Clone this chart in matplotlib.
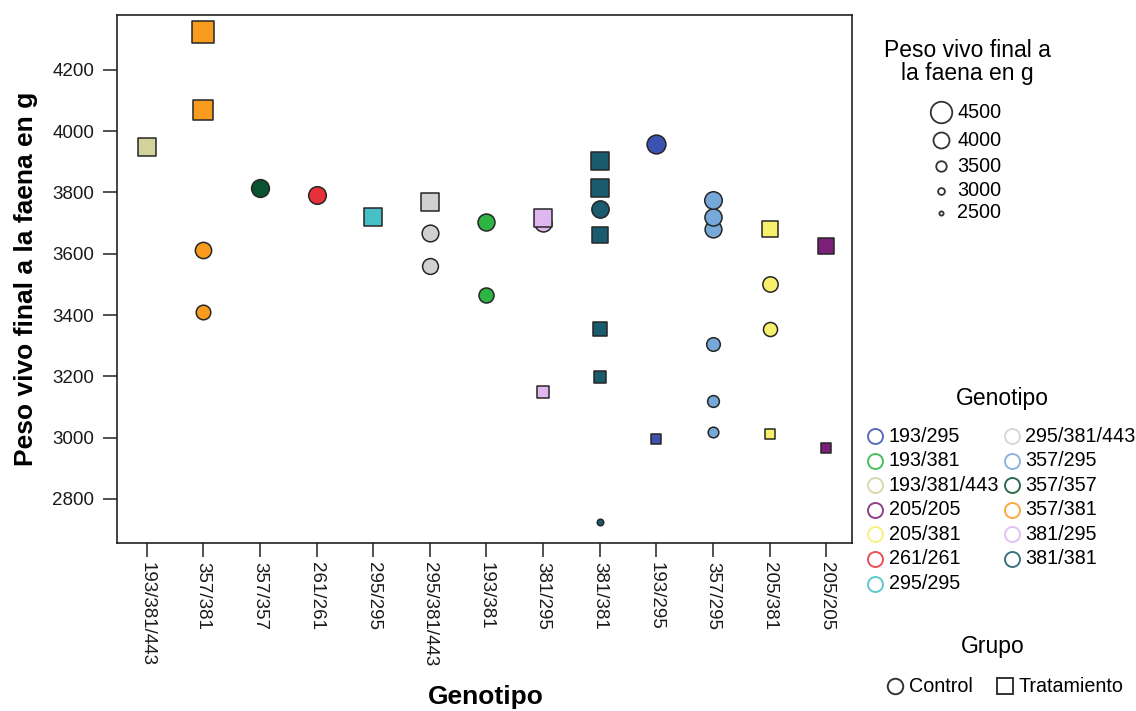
import matplotlib
matplotlib.use("Agg")
import matplotlib.pyplot as plt
from matplotlib.lines import Line2D
import numpy as np

plt.rcParams['font.family'] = ['Liberation Sans', 'DejaVu Sans']

# ---------------- data ----------------
categories = ['193/381/443', '357/381', '357/357', '261/261', '295/295',
              '295/381/443', '193/381', '381/295', '381/381', '193/295',
              '357/295', '205/381', '205/205']

legend_genotipos = ['193/295', '193/381', '193/381/443', '205/205', '205/381',
                    '261/261', '295/295', '295/381/443', '357/295', '357/357',
                    '357/381', '381/295', '381/381']

genotipo_colors = {
    '193/295': '#3B52B0',
    '193/381': '#2DB443',
    '193/381/443': '#D4D29C',
    '205/205': '#7B1F78',
    '205/381': '#F7F06C',
    '261/261': '#E8303A',
    '295/295': '#45C0C6',
    '295/381/443': '#D0D0D0',
    '357/295': '#77A8DA',
    '357/357': '#0A5230',
    '357/381': '#F99B1E',
    '381/295': '#E0B6F0',
    '381/381': '#1A5B6D',
}

pt_genotipo = ['193/381/443',
               '357/381', '357/381', '357/381', '357/381',
               '357/357',
               '261/261',
               '295/295',
               '295/381/443', '295/381/443', '295/381/443',
               '193/381', '193/381',
               '381/295', '381/295', '381/295',
               '381/381', '381/381', '381/381', '381/381', '381/381', '381/381', '381/381',
               '193/295', '193/295',
               '357/295', '357/295', '357/295', '357/295', '357/295', '357/295',
               '205/381', '205/381', '205/381', '205/381',
               '205/205', '205/205']
pt_grupo = ['Tratamiento',
            'Tratamiento', 'Tratamiento', 'Control', 'Control',
            'Control',
            'Control',
            'Tratamiento',
            'Tratamiento', 'Control', 'Control',
            'Control', 'Control',
            'Control', 'Tratamiento', 'Tratamiento',
            'Tratamiento', 'Tratamiento', 'Control', 'Tratamiento', 'Tratamiento', 'Tratamiento', 'Control',
            'Control', 'Tratamiento',
            'Control', 'Control', 'Control', 'Control', 'Control', 'Control',
            'Tratamiento', 'Control', 'Control', 'Tratamiento',
            'Tratamiento', 'Tratamiento']
pt_peso = [3949,
           4325, 4069, 3613, 3411,
           3814,
           3790,
           3721,
           3770, 3667, 3561,
           3705, 3464,
           3700, 3716, 3150,
           3904, 3814, 3745, 3662, 3354, 3199, 2724,
           3959, 2996,
           3017, 3120, 3305, 3681, 3721, 3776,
           3680, 3502, 3354, 3011,
           3626, 2966]

y_ticks = [2800, 3000, 3200, 3400, 3600, 3800, 4000, 4200]
size_legend_values = [4500, 4000, 3500, 3000, 2500]
grupo_labels = ['Control', 'Tratamiento']

# ---------------- styles ----------------
W, H = 1136, 711
DPI = 100
group_marker = {'Control': 'o', 'Tratamiento': 's'}
size_legend_px = {4500: 21.5, 4000: 16.0, 3500: 10.5, 3000: 6.8, 2500: 4.2}
TICK_FS = 13.5
LEG_FS = 14.2
TITLE_FS = 16.5
AXLABEL_FS = 19


def marker_px(v):
    return np.sqrt(np.clip(0.28 * np.asarray(v, float) - 700, 30, None)) - 1.4


def px2fig(x, y):
    return x / W, 1 - y / H


fig = plt.figure(figsize=(W / DPI, H / DPI), dpi=DPI)
ax_l, ax_r, ax_t, ax_b = 117.3, 852.3, 15, 543
ax = fig.add_axes([ax_l / W, 1 - ax_b / H, (ax_r - ax_l) / W, (ax_b - ax_t) / H])

xpos = {c: i for i, c in enumerate(categories)}
for g, grp, v in zip(pt_genotipo, pt_grupo, pt_peso):
    d = marker_px(v) * 72 / DPI
    ax.scatter([xpos[g]], [v], s=d ** 2, marker=group_marker[grp],
               c=genotipo_colors[g], edgecolors='#262626', linewidths=1.1, zorder=3)

ax.set_xlim(-0.519, 12.459)
ax.set_ylim(2656, 4379)
ax.set_xticks(range(len(categories)))
ax.set_xticklabels(categories, rotation=-90, fontsize=TICK_FS, va='top', ha='center')
ax.set_yticks(y_ticks)
ax.set_yticklabels([str(t) for t in y_ticks], fontsize=TICK_FS)
ax.tick_params(axis='both', direction='out', length=10, width=1.1, color='#222222',
               labelcolor='#1a1a1a')
ax.tick_params(axis='x', pad=3.5)
ax.tick_params(axis='y', pad=6.5)
for sp in ax.spines.values():
    sp.set_linewidth(1.2)
    sp.set_color('#222222')

ax.set_xlabel('Genotipo', fontsize=AXLABEL_FS, fontweight='bold', va='center')
ax.xaxis.set_label_coords((486 - ax_l) / (ax_r - ax_l), (ax_b - 697) / (ax_b - ax_t))
ax.set_ylabel('Peso vivo final a la faena en g', fontsize=AXLABEL_FS, fontweight='bold', va='center')
ax.yaxis.set_label_coords((26 - ax_l) / (ax_r - ax_l), 0.5)

# ---------------- size legend ----------------
fig.text(*px2fig(967, 62), 'Peso vivo final a\nla faena en g', ha='center', va='center',
         fontsize=TITLE_FS, linespacing=1.0)
size_rows = [112, 140, 166, 190.5, 213]
for v, yy in zip(size_legend_values, size_rows):
    fx, fy = px2fig(941, yy)
    fig.add_artist(Line2D([fx], [fy], transform=fig.transFigure, marker='o', linestyle='none',
                          markersize=size_legend_px[v] * 72 / DPI, markerfacecolor='none',
                          markeredgecolor='#333333', markeredgewidth=1.3))
    fig.text(*px2fig(957.5, yy), str(v), ha='left', va='center', fontsize=LEG_FS)

# ---------------- genotipo legend ----------------
fig.text(*px2fig(1002, 399), 'Genotipo', ha='center', va='center', fontsize=TITLE_FS)
row_y0, row_dy = 436, 24.6
for i, g in enumerate(legend_genotipos):
    col, row = divmod(i, 7)
    mx = [875, 1011.5][col]
    tx = [888.5, 1025][col]
    yy = row_y0 + row * row_dy
    fx, fy = px2fig(mx, yy)
    fig.add_artist(Line2D([fx], [fy], transform=fig.transFigure, marker='o', linestyle='none',
                          markersize=15 * 72 / DPI, markerfacecolor='none',
                          markeredgecolor=genotipo_colors[g], markeredgewidth=1.4, alpha=0.85))
    fig.text(*px2fig(tx, yy), g, ha='left', va='center', fontsize=LEG_FS)

# ---------------- grupo legend ----------------
fig.text(*px2fig(993, 647), 'Grupo', ha='center', va='center', fontsize=TITLE_FS)
for lab, mx, tx in zip(grupo_labels, [895, 1005], [909, 1018.5]):
    fx, fy = px2fig(mx, 686)
    fig.add_artist(Line2D([fx], [fy], transform=fig.transFigure, marker=group_marker[lab],
                          linestyle='none', markersize=15.5 * 72 / DPI, markerfacecolor='none',
                          markeredgecolor='#333333', markeredgewidth=1.4))
    fig.text(*px2fig(tx, 686), lab, ha='left', va='center', fontsize=LEG_FS)

fig.savefig('out.png', dpi=DPI)
